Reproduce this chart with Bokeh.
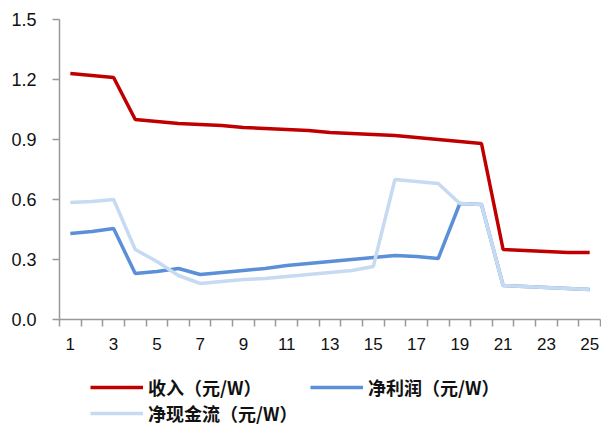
from bokeh.plotting import figure
from bokeh.layouts import column
from bokeh.models import FixedTicker, Legend, LegendItem, Range1d
from bokeh.embed import file_html
from bokeh.resources import INLINE

# Year index 1..25
years = list(range(1, 26))

# 收入（元/W）
revenue = [1.23, 1.22, 1.21, 1.00, 0.99, 0.98, 0.975, 0.97, 0.96, 0.955,
           0.95, 0.945, 0.935, 0.93, 0.925, 0.92, 0.91, 0.90, 0.89, 0.88,
           0.35, 0.345, 0.34, 0.335, 0.335]

# 净利润（元/W）
net_profit = [0.43, 0.44, 0.455, 0.23, 0.24, 0.255, 0.225, 0.235, 0.245, 0.255,
              0.27, 0.28, 0.29, 0.30, 0.31, 0.32, 0.315, 0.305, 0.58, 0.575,
              0.17, 0.165, 0.16, 0.155, 0.15]

# 净现金流（元/W）
net_cash = [0.585, 0.59, 0.60, 0.35, 0.29, 0.22, 0.18, 0.19, 0.20, 0.205,
            0.215, 0.225, 0.235, 0.245, 0.265, 0.70, 0.69, 0.68, 0.58, 0.575,
            0.17, 0.165, 0.16, 0.155, 0.15]

y_ticks = [0.0, 0.3, 0.6, 0.9, 1.2, 1.5]
x_label_ticks = [1, 3, 5, 7, 9, 11, 13, 15, 17, 19, 21, 23, 25]

series_names = ["收入（元/W）", "净利润（元/W）", "净现金流（元/W）"]
colors = ["#C00000", "#5B8FD8", "#C6DAF2"]
line_w = 3.5

p = figure(width=601, height=360, output_backend="svg", toolbar_location=None,
           x_range=Range1d(0.5, 25.5), y_range=Range1d(0, 1.5),
           min_border_left=59, min_border_right=1, min_border_top=19,
           min_border_bottom=41)
p.outline_line_color = None
p.xgrid.visible = False
p.ygrid.visible = False

p.line(years, revenue, line_color=colors[0], line_width=line_w)
p.line(years, net_profit, line_color=colors[1], line_width=line_w)
p.line(years, net_cash, line_color=colors[2], line_width=line_w)

tick_font = "Liberation Sans"
axis_gray = "#999999"

# y axis
p.yaxis.ticker = FixedTicker(ticks=y_ticks)
p.yaxis.major_label_overrides = {t: f"{t:.1f}" for t in y_ticks}
p.yaxis.axis_line_color = axis_gray
p.yaxis.axis_line_width = 1.5
p.yaxis.major_tick_line_color = axis_gray
p.yaxis.major_tick_line_width = 1.5
p.yaxis.major_tick_out = 7
p.yaxis.major_tick_in = 0
p.yaxis.minor_tick_line_color = None
p.yaxis.major_label_standoff = 16
p.yaxis.major_label_text_font = tick_font
p.yaxis.major_label_text_font_size = "18px"
p.yaxis.major_label_text_color = "#111111"

# x axis: boundary ticks between years, labels on odd years
p.xaxis.ticker = FixedTicker(ticks=x_label_ticks,
                             minor_ticks=[i + 0.5 for i in range(0, 26)])
p.xaxis.axis_line_color = axis_gray
p.xaxis.axis_line_width = 1.5
p.xaxis.major_tick_line_color = None
p.xaxis.minor_tick_line_color = axis_gray
p.xaxis.minor_tick_line_width = 1.5
p.xaxis.minor_tick_out = 7
p.xaxis.minor_tick_in = 0
p.xaxis.major_label_standoff = 11
p.xaxis.major_label_text_font = tick_font
p.xaxis.major_label_text_font_size = "17px"
p.xaxis.major_label_text_color = "#111111"

# legend strip under the chart
leg = figure(width=601, height=74, output_backend="svg", toolbar_location=None,
             x_range=Range1d(0, 1), y_range=Range1d(0, 1),
             min_border=0, outline_line_color=None)
leg.xaxis.visible = False
leg.yaxis.visible = False
leg.xgrid.visible = False
leg.ygrid.visible = False
# swatch renderers sit outside the visible range; only their legend glyphs show
swatches = [leg.line(x=[-2, -1], y=[-2, -2], line_color=c, line_width=line_w)
            for c in colors]

legend = Legend(
    items=[LegendItem(label=n, renderers=[r]) for n, r in zip(series_names, swatches)],
    orientation="horizontal", ncols=2,
    location=(31, 8),
    glyph_width=53, glyph_height=20, label_height=20,
    label_width=162, label_standoff=5, spacing=0,
    padding=0, margin=0,
    border_line_color=None, background_fill_alpha=0,
    label_text_font="Noto Sans CJK SC", label_text_font_style="bold",
    label_text_font_size="18px", label_text_color="#111111",
)
leg.add_layout(legend, "center")

open("out.html", "w").write(file_html(column(p, leg, spacing=0), INLINE))
